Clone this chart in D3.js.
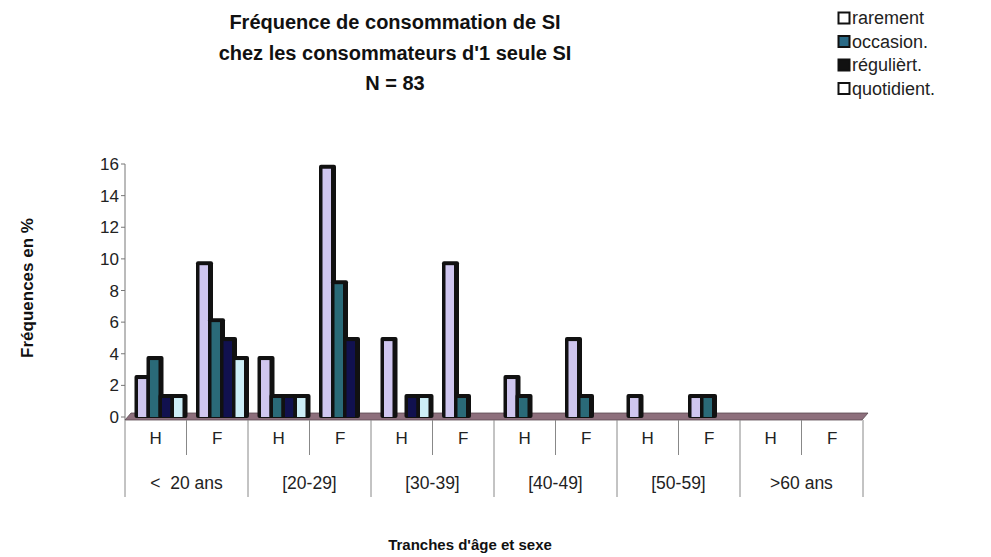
<!DOCTYPE html>
<html>
<head>
<meta charset="utf-8">
<script src="https://cdn.jsdelivr.net/npm/d3@7"></script>
<style>
  body { margin: 0; background: #fff; }
  svg { font-family: Arial, "Liberation Sans", sans-serif; }
</style>
</head>
<body>
<svg id="chart" width="991" height="557"></svg>
<script>
// data (percent of N = 83)
var groups = ["< 20 ans", "[20-29]", "[30-39]", "[40-49]", "[50-59]", ">60 ans"]
var sexes = ["H", "F"]
var series = ["rarement", "occasion.", "régulièrt.", "quotidient."]
var rarement  = [2.4, 9.6, 3.6, 15.7, 4.8, 9.6, 2.4, 4.8, 1.2, 1.2, 0, 0]
var occasion  = [3.6, 6.0, 1.2, 8.4, 0, 1.2, 1.2, 1.2, 0, 1.2, 0, 0]
var regulier  = [1.2, 4.8, 1.2, 4.8, 1.2, 0, 0, 0, 0, 0, 0, 0]
var quotidien = [1.2, 3.6, 1.2, 0, 1.2, 0, 0, 0, 0, 0, 0, 0]
var yTicks = [0, 2, 4, 6, 8, 10, 12, 14, 16]

var values = [rarement, occasion, regulier, quotidien]
var faceColors = ["#cfc6ef", "#2a6a78", "#11114f", "#cdeef7"]
var legendColors = ["#fff", "#2a6a86", "#111", "#fff"]

var svg = d3.select("#chart")

// categories: one slot per (group, sex)
var cats = []
groups.forEach(g => sexes.forEach(s => cats.push(g + "|" + s)))

var x = d3.scaleBand().domain(cats).range([125, 863]).padding(0)
var xs = d3.scaleBand().domain(series).range([11, 59]).padding(0)
var y = d3.scaleLinear().domain([0, 16]).range([417, 164])

// title
var title = ["Fréquence de consommation de SI", "chez les consommateurs d'1 seule SI", "N = 83"]
svg.append("g").selectAll("text")
  .data(title)
  .join("text")
  .attr("x", 395)
  .attr("y", (d, i) => 29 + i * 30.5)
  .attr("text-anchor", "middle")
  .attr("font-size", 20)
  .attr("font-weight", "bold")
  .attr("fill", "#111")
  .text(d => d)

// y axis
var yAxis = svg.append("g")
yAxis.append("line")
  .attr("x1", 125).attr("x2", 125)
  .attr("y1", y(16)).attr("y2", 420)
  .attr("stroke", "#777")
yAxis.selectAll("line.tick")
  .data(yTicks)
  .join("line")
  .attr("class", "tick")
  .attr("x1", 121).attr("x2", 125)
  .attr("y1", d => y(d)).attr("y2", d => y(d))
  .attr("stroke", "#777")
yAxis.selectAll("text")
  .data(yTicks)
  .join("text")
  .attr("x", 119)
  .attr("y", d => y(d) + 6)
  .attr("text-anchor", "end")
  .attr("font-size", 17)
  .attr("fill", "#222")
  .text(d => d)

// 3D floor
var x0 = x.range()[0], x1 = x.range()[1]
svg.append("path")
  .attr("d", "M" + x0 + " 420 L" + (x1 - 1) + " 420 L" + (x1 + 5) + " 413 L" + (x0 + 6) + " 413 Z")
  .attr("fill", "#8d6f7c")
  .attr("stroke", "#5a4a52")
  .attr("stroke-width", 0.8)

// category table lines
var table = svg.append("g").attr("stroke", "#888").attr("stroke-width", 1)
cats.forEach((c, i) => {
  var xl = x(c)
  table.append("line")
    .attr("x1", xl).attr("x2", xl)
    .attr("y1", 420).attr("y2", i % 2 === 0 ? 497 : 455)
})
table.append("line")
  .attr("x1", x1).attr("x2", x1)
  .attr("y1", 420).attr("y2", 497)

svg.append("g").selectAll("text")
  .data(cats)
  .join("text")
  .attr("x", d => x(d) + x.bandwidth() / 2)
  .attr("y", 444)
  .attr("text-anchor", "middle")
  .attr("font-size", 17)
  .attr("fill", "#222")
  .text(d => d.split("|")[1])

svg.append("g").selectAll("text")
  .data(groups)
  .join("text")
  .attr("x", d => x(d + "|H") + x.bandwidth())
  .attr("y", 489)
  .attr("text-anchor", "middle")
  .attr("font-size", 17.5)
  .attr("fill", "#222")
  .attr("xml:space", "preserve")
  .text(d => d.replace("< ", "<  "))

// bars: dark 3D box behind, coloured front face
var bars = svg.append("g")
cats.forEach((c, ci) => {
  series.forEach((s, si) => {
    var v = values[si][ci]
    if (!v) return
    var bx = x(c) + xs(s)
    var by = y(v)
    bars.append("rect")
      .attr("x", bx - 1.5).attr("y", by - 4)
      .attr("width", xs.bandwidth() + 5).attr("height", 418 - by + 4)
      .attr("rx", 2)
      .attr("fill", "#111")
    bars.append("rect")
      .attr("x", bx + 2).attr("y", by)
      .attr("width", xs.bandwidth() - 3.5).attr("height", 417 - by)
      .attr("fill", faceColors[si])
  })
})

// legend
var legend = svg.append("g").selectAll("g")
  .data(series)
  .join("g")
  .attr("transform", (d, i) => "translate(838," + (18 + i * 23.5) + ")")
legend.append("rect")
  .attr("x", 0.5).attr("y", -5.5)
  .attr("width", 11).attr("height", 11)
  .attr("fill", (d, i) => legendColors[i])
  .attr("stroke", "#111")
  .attr("stroke-width", 2)
legend.append("text")
  .attr("x", 14)
  .attr("y", 6)
  .attr("font-size", 18)
  .attr("fill", "#222")
  .text(d => d)

// axis titles
svg.append("text")
  .attr("transform", "translate(33,288) rotate(-90)")
  .attr("text-anchor", "middle")
  .attr("font-size", 17)
  .attr("font-weight", "bold")
  .attr("fill", "#111")
  .text("Fréquences en %")
svg.append("text")
  .attr("x", 470)
  .attr("y", 550)
  .attr("text-anchor", "middle")
  .attr("font-size", 15)
  .attr("font-weight", "bold")
  .attr("fill", "#111")
  .text("Tranches d'âge et sexe")
</script>
</body>
</html>
